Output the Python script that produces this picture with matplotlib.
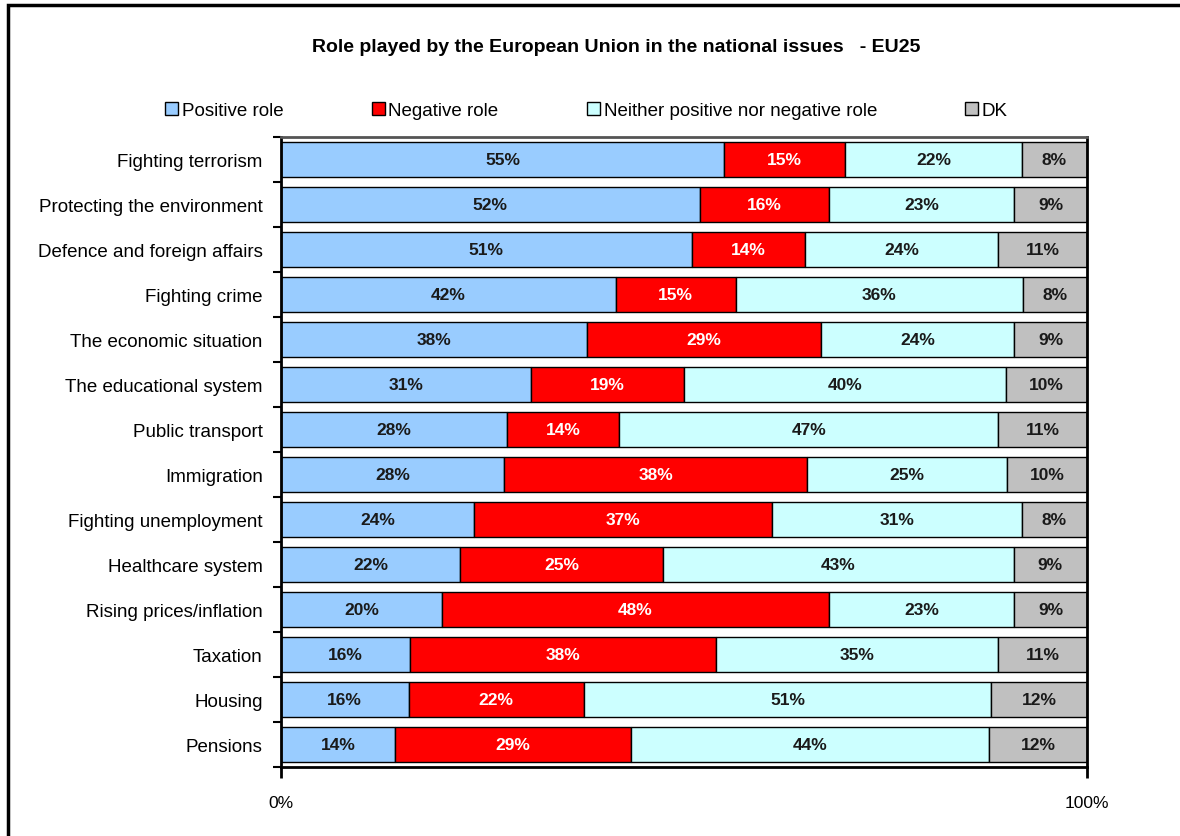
import numpy as np
import matplotlib
matplotlib.use("Agg")
import matplotlib.pyplot as plt
from matplotlib.patches import Rectangle

plt.rcParams['font.family'] = ['Liberation Sans', 'DejaVu Sans']

# Data
issues = ['Fighting terrorism', 'Protecting the environment', 'Defence and foreign affairs',
          'Fighting crime', 'The economic situation', 'The educational system',
          'Public transport', 'Immigration', 'Fighting unemployment', 'Healthcare system',
          'Rising prices/inflation', 'Taxation', 'Housing', 'Pensions']
positive = [55, 52, 51, 42, 38, 31, 28, 28, 24, 22, 20, 16, 16, 14]
negative = [15, 16, 14, 15, 29, 19, 14, 38, 37, 25, 48, 38, 22, 29]
neither = [22, 23, 24, 36, 24, 40, 47, 25, 31, 43, 23, 35, 51, 44]
dk = [8, 9, 11, 8, 9, 10, 11, 10, 8, 9, 9, 11, 12, 12]

series_names = ['Positive role', 'Negative role', 'Neither positive nor negative role', 'DK']
colors = ['#99CCFF', '#FF0000', '#CCFFFF', '#C0C0C0']
text_colors = ['#1a1a1a', 'white', '#1a1a1a', '#1a1a1a']

data = np.array([positive, negative, neither, dk], dtype=float)
shares = data / data.sum(axis=0) * 100

fig = plt.figure(figsize=(11.8, 8.37), dpi=100)
ax = fig.add_axes([0.238, 0.0824, 0.683, 0.7526])

y = np.arange(len(issues))
left = np.zeros(len(issues))
handles = []
for k in range(4):
    bars = ax.barh(y, shares[k], left=left, height=0.77, color=colors[k],
                   edgecolor='black', linewidth=1.0, label=series_names[k])
    handles.append(bars)
    for i in range(len(issues)):
        ax.text(left[i] + shares[k][i] / 2, y[i], f'{int(data[k][i])}%',
                ha='center', va='center', fontsize=12.5, fontweight='bold',
                color=text_colors[k])
    left += shares[k]

ax.set_xlim(0, 100)
ax.set_ylim(len(issues) - 0.5, -0.5)
ax.set_yticks(y)
ax.set_yticklabels(issues, fontsize=13.5)
ax.tick_params(axis='y', length=0, pad=13)
# ticks between categories
ax.set_yticks(np.arange(-0.5, len(issues), 1), minor=True)
ax.tick_params(axis='y', which='minor', length=6, width=1.5, direction='out')
ax.set_xticks([0, 100])
ax.set_xticklabels(['0%', '100%'], fontsize=12.5)
ax.tick_params(axis='x', length=8, width=2, direction='out', pad=12, color='black')

for side in ['left', 'right']:
    ax.spines[side].set_linewidth(2)
ax.spines['top'].set_color('#555555')
ax.spines['top'].set_linewidth(2)
ax.spines['bottom'].set_linewidth(2)

fig.text(0.522, 0.943, 'Role played by the European Union in the national issues   - EU25',
         ha='center', va='center', fontsize=14, fontweight='bold')

fig.legend(handles=handles, loc='center', bbox_to_anchor=(0.497, 0.867), ncol=4,
           frameon=False, fontsize=13.5, handlelength=0.7, handleheight=0.7,
           handletextpad=0.2, columnspacing=4.7)

# outer border
fig.patches.append(Rectangle((8 / 1180, -0.05), 1.2, 1 - 6 / 837 + 0.05,
                             transform=fig.transFigure, fill=False,
                             edgecolor='black', linewidth=2.5))

fig.savefig('out.png', dpi=100)
